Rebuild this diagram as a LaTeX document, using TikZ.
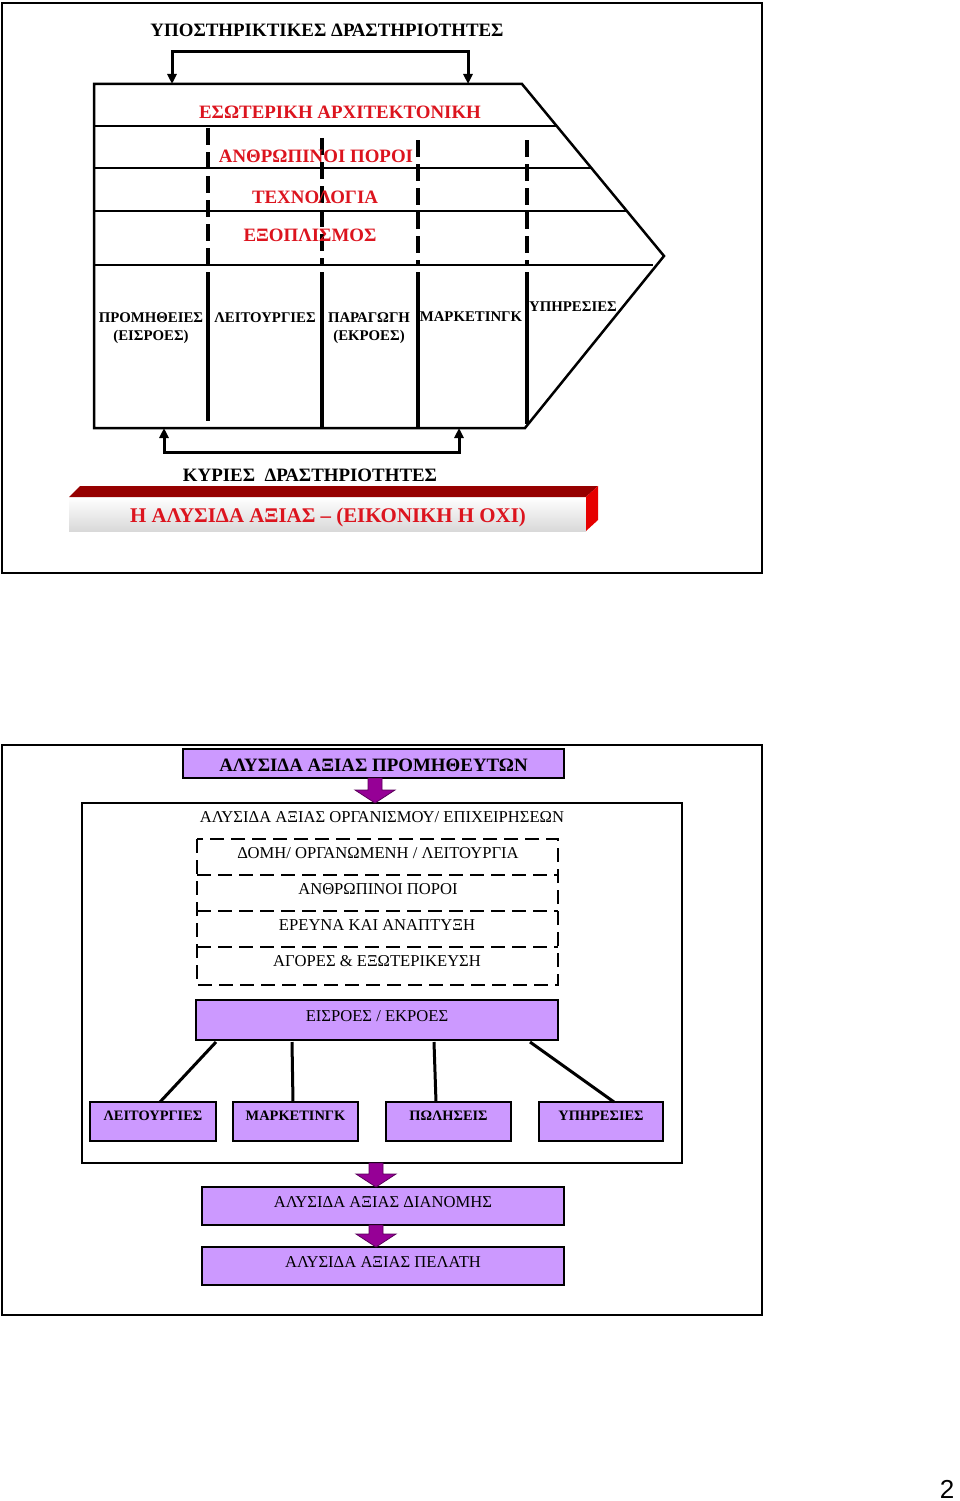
\documentclass[tikz,border=0pt]{standalone}
\usepackage{fontspec}
\setmainfont{Liberation Serif}
\newfontfamily\pnumfont{Liberation Sans}
\usetikzlibrary{calc,arrows.meta}
\definecolor{myred}{RGB}{220,20,30}
\definecolor{lav}{RGB}{204,153,255}
\definecolor{purp}{RGB}{150,0,150}
\definecolor{darkred}{RGB}{150,0,0}
\definecolor{sidered}{RGB}{230,0,0}
\newcommand{\blockarr}[2]{%
  \filldraw[blockarrow] let \p1=(#1), \p2=(#2) in
  (\x1-7pt,\y1) -- (\x1+7pt,\y1) -- (\x1+7pt,\y2+13pt) -- (\x1+20pt,\y2+13pt)
  -- (\x1,\y2) -- (\x1-20pt,\y2+13pt) -- (\x1-7pt,\y2+13pt) -- cycle;}
\begin{document}
\begin{tikzpicture}[x=1pt,y=-1pt,
  frame/.style={draw,line width=2.5pt},
  outline/.style={line width=2.5pt,line join=miter},
  divider/.style={line width=3.5pt},
  ddivider/.style={line width=3.5pt,dash pattern=on 17pt off 7pt},
  bracket/.style={line width=3pt},
  upar/.style={line width=3pt,-{Triangle[length=10pt,width=9pt]}},
  redtxt/.style={text=myred,font=\bfseries\fontsize{18.9}{21}\selectfont,inner sep=0pt},
  coltxt/.style={font=\bfseries\fontsize{14.8}{18}\selectfont,align=center,inner sep=0pt},
  bigtxt/.style={font=\bfseries\fontsize{18.9}{21}\selectfont,inner sep=0pt},
  normtxt/.style={font=\fontsize{16.6}{19}\selectfont,inner sep=0pt},
  lavbox/.style={draw=black,fill=lav,line width=2.5pt,inner sep=0pt,outer sep=0pt},
  smalltxt/.style={font=\bfseries\fontsize{14.4}{16}\selectfont,inner sep=0pt},
  blockarrow/.style={fill=purp,draw=purp!60!black,line width=0.8pt},
  dashline/.style={line width=2.5pt,dash pattern=on 14pt off 7pt},
  conn/.style={line width=3pt}
]
\useasboundingbox (0,0) rectangle (960,1501);

% ================= TOP PANEL =================
\draw[frame] (2,3) rectangle (762,573);
\node[bigtxt] (title) at (327,30) {ΥΠΟΣΤΗΡΙΚΤΙΚΕΣ ΔΡΑΣΤΗΡΙΟΤΗΤΕΣ};

% chevron
\coordinate (cTL) at (94,84);
\coordinate (cTR) at (522,84);
\coordinate (cTip) at (664,256);
\coordinate (cBR) at (525,428);
\coordinate (cBL) at (94,428);
\draw[outline] (cTL) -- (cTR) -- (cTip) -- (cBR) -- (cBL) -- cycle;
\draw[outline] (94,126) -- (557,126);
\draw[outline] (94,168) -- (591,168);
\draw[outline] (94,211) -- (627,211);
\draw[outline] (94,265) -- (653,265);

% dividers
\draw[ddivider] (208,128) -- (208,265);
\draw[divider] (208,272) -- (208,421);
\draw[ddivider] (322,138) -- (322,265);
\draw[divider] (322,272) -- (322,428);
\draw[ddivider] (418,140) -- (418,265);
\draw[divider] (418,272) -- (418,428);
\draw[ddivider] (527,140) -- (527,265);
\draw[divider] (527,272) -- (527,424);

% top bracket
\coordinate (tb1) at (172,52);
\coordinate (tb2) at (468,52);
\draw[bracket,line cap=rect] (tb1) -- (tb2);
\draw[upar] (tb1) -- (172,84);
\draw[upar] (tb2) -- (468,84);

% red row labels
\node[redtxt] (r1) at (340,112) {ΕΣΩΤΕΡΙΚΗ ΑΡΧΙΤΕΚΤΟΝΙΚΗ};
\node[redtxt] (r2) at (316,156) {ΑΝΘΡΩΠΙΝΟΙ ΠΟΡΟΙ};
\node[redtxt] (r3) at (315,197) {ΤΕΧΝΟΛΟΓΙΑ};
\node[redtxt] (r4) at (310,235) {ΕΞΟΠΛΙΣΜΟΣ};

% column labels
\node[coltxt,anchor=north] (k1) at (151,312) {ΠΡΟΜΗΘΕΙΕΣ\\(ΕΙΣΡΟΕΣ)};
\node[coltxt,anchor=north] (k2) at (265,312) {ΛΕΙΤΟΥΡΓΙΕΣ};
\node[coltxt,anchor=north] (k3) at (369,312) {ΠΑΡΑΓΩΓΗ\\(ΕΚΡΟΕΣ)};
\node[coltxt,anchor=north] (k4) at (471,312) {ΜΑΡΚΕΤΙΝΓΚ};
\node[coltxt,anchor=north] (k5) at (573,302) {ΥΠΗΡΕΣΙΕΣ};

% bottom bracket
\coordinate (bb1) at (164,452);
\coordinate (bb2) at (459,452);
\draw[bracket,line cap=rect] (bb1) -- (bb2);
\draw[upar] (bb1) -- (164,428);
\draw[upar] (bb2) -- (459,428);

\node[bigtxt] (kyr) at (310,475) {ΚΥΡΙΕΣ\ \ ΔΡΑΣΤΗΡΙΟΤΗΤΕΣ};

% 3D bar
\shade[top color=white,bottom color=gray!30] (69,497) rectangle (586,531);
\fill[darkred] (69,497) -- (80,486) -- (598,486) -- (586,497) -- cycle;
\fill[sidered] (586,497) -- (598,486) -- (598,520) -- (586,531) -- cycle;
\node[redtxt,font=\bfseries\fontsize{20.9}{23}\selectfont] (bar) at (328,517) {Η ΑΛΥΣΙΔΑ ΑΞΙΑΣ – (ΕΙΚΟΝΙΚΗ Η ΟΧΙ)};

% ================= BOTTOM PANEL =================
\draw[frame] (2,745) rectangle (762,1315);

\node[lavbox,minimum width=381pt,minimum height=29pt] (sup) at (373.5,763.5) {};
\node[bigtxt] (supt) at (373.5,765) {ΑΛΥΣΙΔΑ ΑΞΙΑΣ ΠΡΟΜΗΘΕΥΤΩΝ};

\draw[line width=2pt] (82,803) rectangle (682,1163);
\coordinate (innerTop) at (375,803);
\blockarr{sup.south -| innerTop}{innerTop}

\node[normtxt] (org) at (382,817) {ΑΛΥΣΙΔΑ ΑΞΙΑΣ ΟΡΓΑΝΙΣΜΟΥ/ ΕΠΙΧΕΙΡΗΣΕΩΝ};

\draw[dashline] (197,839) rectangle (558,985);
\draw[dashline] (197,875) -- (558,875);
\draw[dashline] (197,911) -- (558,911);
\draw[dashline] (197,947) -- (558,947);
\node[normtxt] (d1) at (378,853) {ΔΟΜΗ/ ΟΡΓΑΝΩΜΕΝΗ / ΛΕΙΤΟΥΡΓΙΑ};
\node[normtxt] (d2) at (378,889) {ΑΝΘΡΩΠΙΝΟΙ ΠΟΡΟΙ};
\node[normtxt] (d3) at (377,925) {ΕΡΕΥΝΑ ΚΑΙ ΑΝΑΠΤΥΞΗ};
\node[normtxt] (d4) at (377,961) {ΑΓΟΡΕΣ \& ΕΞΩΤΕΡΙΚΕΥΣΗ};

\node[lavbox,minimum width=362pt,minimum height=40pt] (eis) at (377,1020) {};
\node[normtxt] (eist) at (377,1016) {ΕΙΣΡΟΕΣ / ΕΚΡΟΕΣ};

\node[lavbox,minimum width=126pt,minimum height=39pt,anchor=north west] (l1) at (90,1102) {};
\node[lavbox,minimum width=125pt,minimum height=39pt,anchor=north west] (l2) at (233,1102) {};
\node[lavbox,minimum width=125pt,minimum height=39pt,anchor=north west] (l3) at (386,1102) {};
\node[lavbox,minimum width=124pt,minimum height=39pt,anchor=north west] (l4) at (539,1102) {};
\node[smalltxt] (l1t) at ($(l1.north)+(0,14)$) {ΛΕΙΤΟΥΡΓΙΕΣ};
\node[smalltxt] (l2t) at ($(l2.north)+(0,14)$) {ΜΑΡΚΕΤΙΝΓΚ};
\node[smalltxt] (l3t) at ($(l3.north)+(0,14)$) {ΠΩΛΗΣΕΙΣ};
\node[smalltxt] (l4t) at ($(l4.north)+(0,14)$) {ΥΠΗΡΕΣΙΕΣ};

\draw[conn] ([xshift=20pt,yshift=-2pt]eis.south west) -- ([xshift=70pt]l1.north west);
\draw[conn] ([xshift=96pt,yshift=-2pt]eis.south west) -- ([xshift=60pt]l2.north west);
\draw[conn] ([xshift=238pt,yshift=-2pt]eis.south west) -- ([xshift=50pt]l3.north west);
\draw[conn] ([xshift=334pt,yshift=-2pt]eis.south west) -- ([xshift=75pt]l4.north west);

\coordinate (innerBot) at (376,1163);
\node[lavbox,minimum width=362pt,minimum height=38pt] (dia) at (383,1206) {};
\node[normtxt] (diat) at (383,1202) {ΑΛΥΣΙΔΑ ΑΞΙΑΣ ΔΙΑΝΟΜΗΣ};
\blockarr{innerBot}{dia.north -| innerBot}

\node[lavbox,minimum width=362pt,minimum height=38pt] (pel) at (383,1266) {};
\node[normtxt] (pelt) at (383,1262) {ΑΛΥΣΙΔΑ ΑΞΙΑΣ ΠΕΛΑΤΗ};
\blockarr{dia.south -| innerBot}{pel.north -| innerBot}

\node[font=\pnumfont\fontsize{26}{28}\selectfont,inner sep=0pt] (pg) at (947,1489) {2};
\end{tikzpicture}
\end{document}
